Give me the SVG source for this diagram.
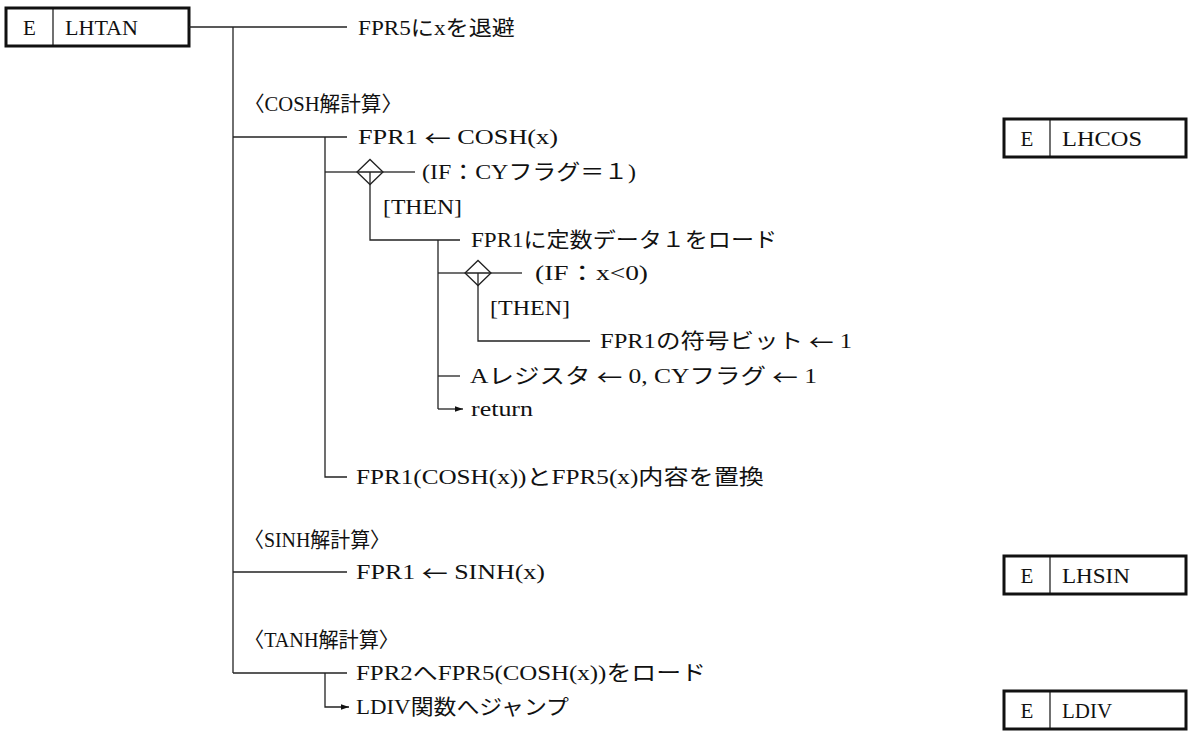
<svg xmlns="http://www.w3.org/2000/svg" width="1188" height="733" viewBox="0 0 1188 733">
<style>
.t{font-family:"Liberation Serif","Noto Sans CJK JP",serif;font-size:21px;fill:#111;dominant-baseline:central}
.b{font-family:"Liberation Serif","Noto Sans CJK JP",serif;font-size:21px;fill:#111;dominant-baseline:central}
.ar{font-family:"Noto Sans CJK JP",sans-serif}
.ln{stroke:#222;stroke-width:1.3;fill:none}
.box{fill:#fff;stroke:#111;stroke-width:3}
.div{stroke:#111;stroke-width:1.2}
.dm{fill:#fff;stroke:#222;stroke-width:1.3}
</style>
<defs>
<marker id="ah" viewBox="0 0 10 10" refX="10" refY="5" markerWidth="10" markerHeight="8" markerUnits="userSpaceOnUse" orient="auto">
<path d="M0,1.5 L10,5 L0,8.5 z" fill="#111"/>
</marker>
</defs>
<rect width="1188" height="733" fill="#fff"/>

<g id="node-LHTAN">
<rect class="box" x="6" y="8" width="183" height="38"/>
<line class="div" x1="53" y1="8" x2="53" y2="46"/>
<text class="b" x="29.5" y="28" text-anchor="middle">E</text>
<text class="b" x="65" y="28" textLength="73" lengthAdjust="spacingAndGlyphs">LHTAN</text>
</g>
<g id="node-LHCOS">
<rect class="box" x="1004" y="119" width="182" height="38"/>
<line class="div" x1="1050" y1="119" x2="1050" y2="157"/>
<text class="b" x="1027" y="139" text-anchor="middle">E</text>
<text class="b" x="1062" y="139" textLength="80" lengthAdjust="spacingAndGlyphs">LHCOS</text>
</g>
<g id="node-LHSIN">
<rect class="box" x="1004" y="556" width="182" height="38"/>
<line class="div" x1="1050" y1="556" x2="1050" y2="594"/>
<text class="b" x="1027" y="576" text-anchor="middle">E</text>
<text class="b" x="1062" y="576" textLength="68" lengthAdjust="spacingAndGlyphs">LHSIN</text>
</g>
<g id="node-LDIV">
<rect class="box" x="1004" y="691" width="182" height="38"/>
<line class="div" x1="1050" y1="691" x2="1050" y2="729"/>
<text class="b" x="1027" y="711" text-anchor="middle">E</text>
<text class="b" x="1062" y="711" textLength="50" lengthAdjust="spacingAndGlyphs">LDIV</text>
</g>

<g id="connectors">
<path class="ln" d="M189,27 H347"/>
<path class="ln" d="M233,27 V673"/>
<path class="ln" d="M233,137 H347"/>
<path class="ln" d="M233,572 H347"/>
<path class="ln" d="M233,673 H347"/>
<path class="ln" d="M325,137 V477 H347"/>
<path class="ln" d="M325,172 H357"/>
<path class="ln" d="M383,172 H415"/>
<path class="ln" d="M370,172 V240 H460"/>
<path class="ln" d="M438,240 V409"/>
<path class="ln" d="M438,273 H465"/>
<path class="ln" d="M491,273 H522"/>
<path class="ln" d="M478,273 V341 H590"/>
<path class="ln" d="M438,376 H460"/>
<path class="ln" d="M438,409 H463" marker-end="url(#ah)"/>
<path class="ln" d="M325,673 V707 H349" marker-end="url(#ah)"/>
<path class="dm" d="M357,172 L370,159.5 L383,172 L370,184.5 Z"/>
<path class="ln" d="M357,172 H383 M370,172 V184.5"/>
<path class="dm" d="M465,273 L478,260.5 L491,273 L478,285.5 Z"/>
<path class="ln" d="M465,273 H491 M478,273 V285.5"/>
</g>

<g id="labels">
<text class="t" x="358" y="28" textLength="157" lengthAdjust="spacingAndGlyphs">FPR5にxを退避</text>
<text class="t" x="244" y="104" textLength="158" lengthAdjust="spacingAndGlyphs">〈COSH解計算〉</text>
<text class="t" x="358" y="137" textLength="200" lengthAdjust="spacingAndGlyphs">FPR1 <tspan class="ar">←</tspan> COSH(x)</text>
<text class="t" x="422" y="172" textLength="214" lengthAdjust="spacingAndGlyphs">(IF：CYフラグ＝１)</text>
<text class="t" x="383" y="207" textLength="79" lengthAdjust="spacingAndGlyphs">[THEN]</text>
<text class="t" x="471" y="240" textLength="306" lengthAdjust="spacingAndGlyphs">FPR1に定数データ１をロード</text>
<text class="t" x="535" y="273" textLength="113" lengthAdjust="spacingAndGlyphs">(IF：x&lt;0)</text>
<text class="t" x="490" y="308" textLength="80" lengthAdjust="spacingAndGlyphs">[THEN]</text>
<text class="t" x="600" y="341" textLength="252" lengthAdjust="spacingAndGlyphs">FPR1の符号ビット <tspan class="ar">←</tspan> 1</text>
<text class="t" x="470" y="376" textLength="347" lengthAdjust="spacingAndGlyphs">Aレジスタ <tspan class="ar">←</tspan> 0, CYフラグ <tspan class="ar">←</tspan> 1</text>
<text class="t" x="471" y="409" textLength="62" lengthAdjust="spacingAndGlyphs">return</text>
<text class="t" x="356" y="477" textLength="408" lengthAdjust="spacingAndGlyphs">FPR1(COSH(x))とFPR5(x)内容を置換</text>
<text class="t" x="244" y="540" textLength="146" lengthAdjust="spacingAndGlyphs">〈SINH解計算〉</text>
<text class="t" x="356" y="572" textLength="189" lengthAdjust="spacingAndGlyphs">FPR1 <tspan class="ar">←</tspan> SINH(x)</text>
<text class="t" x="244" y="640" textLength="155" lengthAdjust="spacingAndGlyphs">〈TANH解計算〉</text>
<text class="t" x="356" y="673" textLength="350" lengthAdjust="spacingAndGlyphs">FPR2へFPR5(COSH(x))をロード</text>
<text class="t" x="356" y="707" textLength="213" lengthAdjust="spacingAndGlyphs">LDIV関数へジャンプ</text>
</g>
</svg>
